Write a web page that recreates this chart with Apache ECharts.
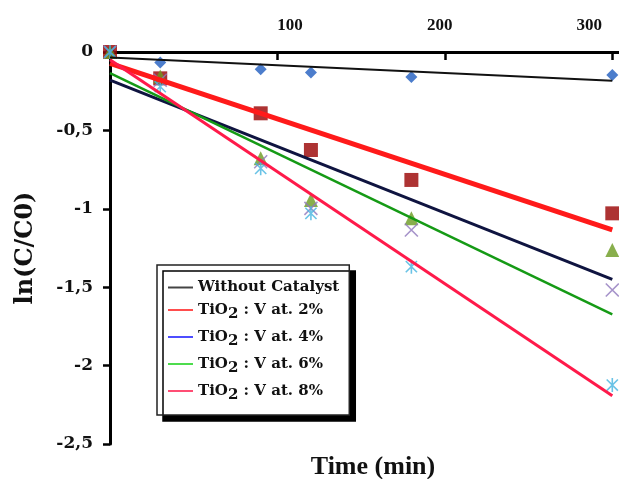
<!DOCTYPE html>
<html>
<head>
<meta charset="utf-8">
<script src="https://cdn.jsdelivr.net/npm/echarts@6/dist/echarts.min.js"></script>
<style>
  html, body { margin: 0; padding: 0; background: #fff; }
  #chart { width: 619px; height: 479px; }
</style>
</head>
<body>
<div id="chart"></div>
<script>
// sampling times (min) and ln(C/C0)
const times = [0, 30, 90, 120, 180, 300];
const noCatalyst = [0, -0.067, -0.110, -0.131, -0.159, -0.147];
const vAt2 = [0, -0.168, -0.391, -0.625, -0.816, -1.029];
const vAt4 = [0, -0.180, -0.700, -0.997, -1.135, -1.518];
const vAt6 = [0, -0.157, -0.678, -0.944, -1.061, -1.263];
const vAt8 = [0, -0.221, -0.742, -1.029, -1.369, -2.124];

// linear fits: values at the two ends of the fit range
const fitRange = [0, 300];
const fitNoCatalyst = [-0.035, -0.183];
const fit2 = [-0.072, -1.135];
const fit4 = [-0.180, -1.450];
const fit6 = [-0.135, -1.673];
const fit8 = [-0.050, -2.193];

const names = [
  "Without Catalyst",
  "TiO2 : V at. 2%",
  "TiO2 : V at. 4%",
  "TiO2 : V at. 6%",
  "TiO2 : V at. 8%",
];

const SERIF = "'DejaVu Serif', serif";
const TIMES = "'Liberation Serif', 'Times New Roman', serif";

const pairs = (xs, ys) => xs.map((x, i) => [x, ys[i]]);

const CROSS = "path://M0,0L10,10M10,0L0,10";
const STAR = "path://M5,0L5,10M1,1L9,9M9,1L1,9";

function scatter(data, symbol, size, itemStyle) {
  return {
    type: "scatter",
    data: pairs(times, data),
    symbol,
    symbolSize: size,
    symbolKeepAspect: true,
    itemStyle,
    z: 2,
  };
}

function fit(name, ends, color, width) {
  return {
    name,
    type: "line",
    data: pairs(fitRange, ends),
    symbol: "none",
    lineStyle: { color, width },
    z: 3,
  };
}

const legendColors = ["#444444", "#ff4d4d", "#4d4dff", "#4ddc4d", "#ff4d74"];

const chart = echarts.init(document.getElementById("chart"), null, { renderer: "canvas" });

chart.setOption({
  animation: false,
  backgroundColor: "#fff",
  grid: { left: 110, top: 52, width: 510, height: 392, containLabel: false },
  title: {
    text: "Time (min)",
    left: 368,
    top: 449,
    textAlign: "center",
    textStyle: { fontFamily: TIMES, fontWeight: "bold", fontSize: 26, color: "#111" },
  },
  legend: {
    orient: "vertical",
    left: 157,
    top: 265,
    padding: [15, 10, 12, 11],
    itemGap: 3,
    itemWidth: 25,
    itemHeight: 2,
    icon: "rect",
    backgroundColor: "#fff",
    borderColor: "#222",
    borderWidth: 1.5,
    borderRadius: 0,
    shadowColor: "#000",
    shadowBlur: 0,
    shadowOffsetX: 6,
    shadowOffsetY: 6,
    data: names.map((n, i) => ({ name: n, itemStyle: { color: legendColors[i] } })),
    formatter: (n) => (n.startsWith("TiO2") ? "{m|TiO}{sub|2}{m|" + n.slice(4) + "}" : "{m|" + n + "}"),
    textStyle: {
      color: "#111",
      rich: {
        m: { fontFamily: SERIF, fontWeight: "bold", fontSize: 15, color: "#111", lineHeight: 20, verticalAlign: "middle" },
        sub: { fontFamily: SERIF, fontWeight: "bold", fontSize: 15, color: "#111", lineHeight: 20, verticalAlign: "middle", padding: [9, 0, 0, 0] },
      },
    },
  },
  xAxis: {
    type: "value",
    position: "top",
    min: 0,
    max: 304,
    interval: 100,
    axisLine: { onZero: false, lineStyle: { color: "#000", width: 3 } },
    axisTick: { inside: true, length: 8, lineStyle: { color: "#000", width: 2.5 } },
    splitLine: { show: false },
    axisLabel: {
      showMinLabel: false,
      showMaxLabel: false,
      margin: 18,
      formatter: (v) => (v === 100 ? "{a|100}" : v === 200 ? "{b|200}" : v === 300 ? "{c|300}" : ""),
      rich: {
        a: { fontFamily: TIMES, fontWeight: "bold", fontSize: 17, color: "#111", padding: [0, 0, 0, 25] },
        b: { fontFamily: TIMES, fontWeight: "bold", fontSize: 17, color: "#111", padding: [0, 10, 0, 0] },
        c: { fontFamily: TIMES, fontWeight: "bold", fontSize: 17, color: "#111", padding: [0, 46, 0, 0] },
      },
    },
  },
  yAxis: {
    type: "value",
    min: -2.5,
    max: 0,
    interval: 0.5,
    name: "ln(C/C0)",
    nameLocation: "middle",
    nameRotate: 90,
    nameGap: 72,
    nameTextStyle: { fontFamily: SERIF, fontWeight: "bold", fontSize: 24, color: "#111" },
    axisLine: { lineStyle: { color: "#000", width: 3 } },
    axisTick: { length: 7, lineStyle: { color: "#000", width: 2.5 } },
    splitLine: { show: false },
    axisLabel: {
      margin: 17,
      fontFamily: SERIF,
      fontWeight: "bold",
      fontSize: 17,
      color: "#111",
      formatter: (v) => String(v).replace(".", ","),
    },
  },
  series: [
    scatter(noCatalyst, "diamond", 12, { color: "#1f5cbf" }),
    scatter(vAt2, "rect", 14, { color: "#990000" }),
    scatter(vAt6, "triangle", 14, { color: "#6a9a1f" }),
    scatter(vAt4, CROSS, 13, { color: "transparent", borderColor: "#9078bd", borderWidth: 1.6 }),
    scatter(vAt8, STAR, 14, { color: "transparent", borderColor: "#45b4e0", borderWidth: 1.6 }),
    fit(names[0], fitNoCatalyst, "#111", 2),
    fit(names[1], fit2, "#ff1a1a", 5),
    fit(names[2], fit4, "#0f1440", 3),
    fit(names[3], fit6, "#159a15", 2.5),
    fit(names[4], fit8, "#ff1a4a", 3),
  ],
});

window.addEventListener("resize", () => chart.resize());
</script>
</body>
</html>
